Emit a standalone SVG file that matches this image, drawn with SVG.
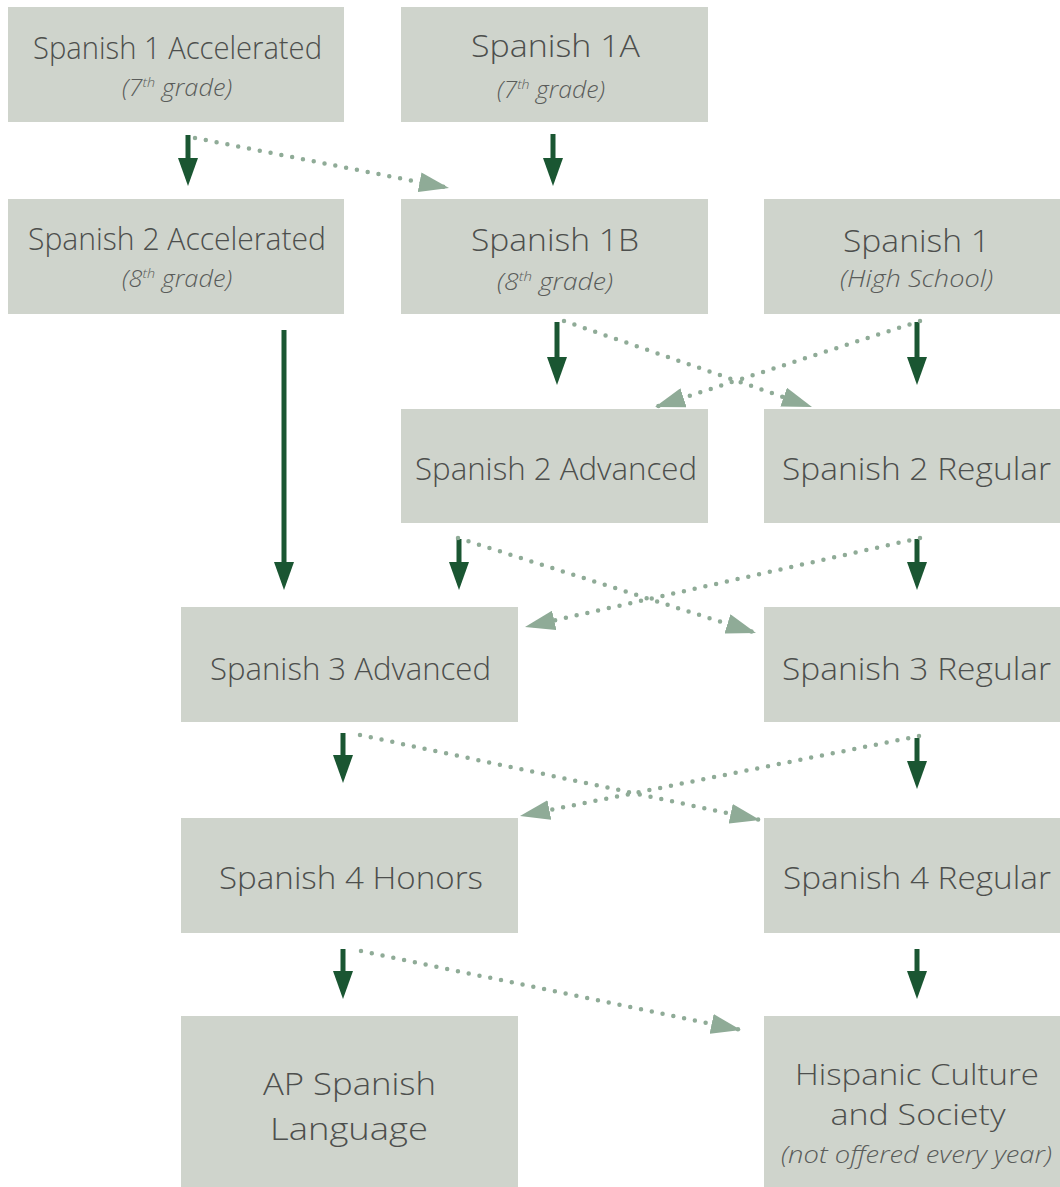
<svg xmlns="http://www.w3.org/2000/svg" width="1060" height="1187" viewBox="0 0 1060 1187">
<style>
.box{fill:#cfd4cc}
.t{font-family:"Open Sans",Lato,"Liberation Sans",sans-serif;font-weight:300;fill:#4d4f4d;text-anchor:middle;font-size:31px}
.b{font-size:29px}
.s{font-family:"Open Sans",Lato,"Liberation Sans",sans-serif;font-weight:300;font-style:italic;fill:#5a5c5a;text-anchor:middle;font-size:23px}
.sup{font-size:13px}
.solid{stroke:#1a5632;stroke-width:5;fill:none}
.dot{stroke:#8fab97;stroke-width:4.5;stroke-linecap:round;stroke-dasharray:0 11;fill:none}
</style>
<defs>
<marker id="hs" markerUnits="userSpaceOnUse" markerWidth="28" markerHeight="20" refX="0" refY="10" orient="auto" viewBox="0 0 28 20"><path d="M0,0 L28,10 L0,20 z" fill="#1a5632"/></marker>
<marker id="hd" markerUnits="userSpaceOnUse" markerWidth="30" markerHeight="20" refX="30" refY="10" orient="auto" viewBox="0 0 30 20"><path d="M0,0 L30,10 L0,20 z" fill="#8fab97"/></marker>
</defs>
<rect width="1060" height="1187" fill="#ffffff"/>
<g id="n-s1acc"><rect class="box" x="8" y="7" width="336" height="115"/><text class="t" x="177.5" y="59" textLength="289" lengthAdjust="spacingAndGlyphs">Spanish 1 Accelerated</text><text class="s" x="177" y="96" textLength="110" lengthAdjust="spacingAndGlyphs">(7<tspan class="sup" dy="-9">th</tspan><tspan dy="9"> grade)</tspan></text></g>
<g id="n-s1a"><rect class="box" x="401" y="7" width="307" height="115"/><text class="t" x="555.5" y="57" textLength="169" lengthAdjust="spacingAndGlyphs">Spanish 1A</text><text class="s" x="551" y="98" textLength="108" lengthAdjust="spacingAndGlyphs">(7<tspan class="sup" dy="-9">th</tspan><tspan dy="9"> grade)</tspan></text></g>
<g id="n-s2acc"><rect class="box" x="8" y="199" width="336" height="115"/><text class="t" x="177" y="250" textLength="298" lengthAdjust="spacingAndGlyphs">Spanish 2 Accelerated</text><text class="s" x="177" y="287" textLength="110" lengthAdjust="spacingAndGlyphs">(8<tspan class="sup" dy="-9">th</tspan><tspan dy="9"> grade)</tspan></text></g>
<g id="n-s1b"><rect class="box" x="401" y="199" width="307" height="115"/><text class="t" x="555" y="251" textLength="168" lengthAdjust="spacingAndGlyphs">Spanish 1B</text><text class="s" x="555" y="290" textLength="116" lengthAdjust="spacingAndGlyphs">(8<tspan class="sup" dy="-9">th</tspan><tspan dy="9"> grade)</tspan></text></g>
<g id="n-s1"><rect class="box" x="764" y="199" width="296" height="115"/><text class="t" x="916.5" y="252" textLength="147" lengthAdjust="spacingAndGlyphs">Spanish 1</text><text class="s" x="916.5" y="287" textLength="153" lengthAdjust="spacingAndGlyphs">(High School)</text></g>
<g id="n-s2adv"><rect class="box" x="401" y="409" width="307" height="114"/><text class="t" x="556" y="480" textLength="282" lengthAdjust="spacingAndGlyphs">Spanish 2 Advanced</text></g>
<g id="n-s2reg"><rect class="box" x="764" y="409" width="296" height="114"/><text class="t" x="916.5" y="480" textLength="269" lengthAdjust="spacingAndGlyphs">Spanish 2 Regular</text></g>
<g id="n-s3adv"><rect class="box" x="181" y="607" width="337" height="115"/><text class="t" x="350.5" y="680" textLength="281" lengthAdjust="spacingAndGlyphs">Spanish 3 Advanced</text></g>
<g id="n-s3reg"><rect class="box" x="764" y="607" width="296" height="115"/><text class="t" x="916.5" y="680" textLength="269" lengthAdjust="spacingAndGlyphs">Spanish 3 Regular</text></g>
<g id="n-s4hon"><rect class="box" x="181" y="818" width="337" height="115"/><text class="t" x="351" y="889" textLength="264" lengthAdjust="spacingAndGlyphs">Spanish 4 Honors</text></g>
<g id="n-s4reg"><rect class="box" x="764" y="818" width="296" height="115"/><text class="t" x="917" y="889" textLength="268" lengthAdjust="spacingAndGlyphs">Spanish 4 Regular</text></g>
<g id="n-ap"><rect class="box" x="181" y="1016" width="337" height="171"/><text class="t" x="349.5" y="1095" textLength="173" lengthAdjust="spacingAndGlyphs">AP Spanish</text><text class="t" x="349" y="1140" textLength="158" lengthAdjust="spacingAndGlyphs">Language</text></g>
<g id="n-hcs"><rect class="box" x="764" y="1016" width="296" height="171"/><text class="t b" x="917" y="1085" textLength="244" lengthAdjust="spacingAndGlyphs">Hispanic Culture</text><text class="t b" x="918" y="1125" textLength="175" lengthAdjust="spacingAndGlyphs">and Society</text><text class="s" x="916.5" y="1163" textLength="271" lengthAdjust="spacingAndGlyphs">(not offered every year)</text></g>
<g id="connectors">
<line class="solid" x1="188" y1="135" x2="188" y2="158" marker-end="url(#hs)"/>
<line class="solid" x1="553" y1="134" x2="553" y2="158" marker-end="url(#hs)"/>
<line class="solid" x1="284" y1="330" x2="284" y2="562" marker-end="url(#hs)"/>
<line class="solid" x1="557" y1="322" x2="557" y2="357" marker-end="url(#hs)"/>
<line class="solid" x1="917" y1="322" x2="917" y2="357" marker-end="url(#hs)"/>
<line class="solid" x1="459" y1="539" x2="459" y2="562" marker-end="url(#hs)"/>
<line class="solid" x1="917" y1="539" x2="917" y2="562" marker-end="url(#hs)"/>
<line class="solid" x1="343" y1="733" x2="343" y2="755" marker-end="url(#hs)"/>
<line class="solid" x1="917" y1="738" x2="917" y2="761" marker-end="url(#hs)"/>
<line class="solid" x1="343" y1="949" x2="343" y2="971" marker-end="url(#hs)"/>
<line class="solid" x1="917" y1="949" x2="917" y2="971" marker-end="url(#hs)"/>
<line class="dot" x1="195" y1="138" x2="449" y2="188" marker-end="url(#hd)"/>
<line class="dot" x1="564" y1="321" x2="812" y2="407" marker-end="url(#hd)"/>
<line class="dot" x1="920" y1="321" x2="655" y2="407" marker-end="url(#hd)"/>
<line class="dot" x1="458" y1="538" x2="756" y2="633" marker-end="url(#hd)"/>
<line class="dot" x1="920" y1="538" x2="525" y2="627" marker-end="url(#hd)"/>
<line class="dot" x1="360" y1="735" x2="760" y2="820" marker-end="url(#hd)"/>
<line class="dot" x1="919" y1="736" x2="520" y2="816" marker-end="url(#hd)"/>
<line class="dot" x1="361" y1="951" x2="741" y2="1030" marker-end="url(#hd)"/>
</g>
</svg>
